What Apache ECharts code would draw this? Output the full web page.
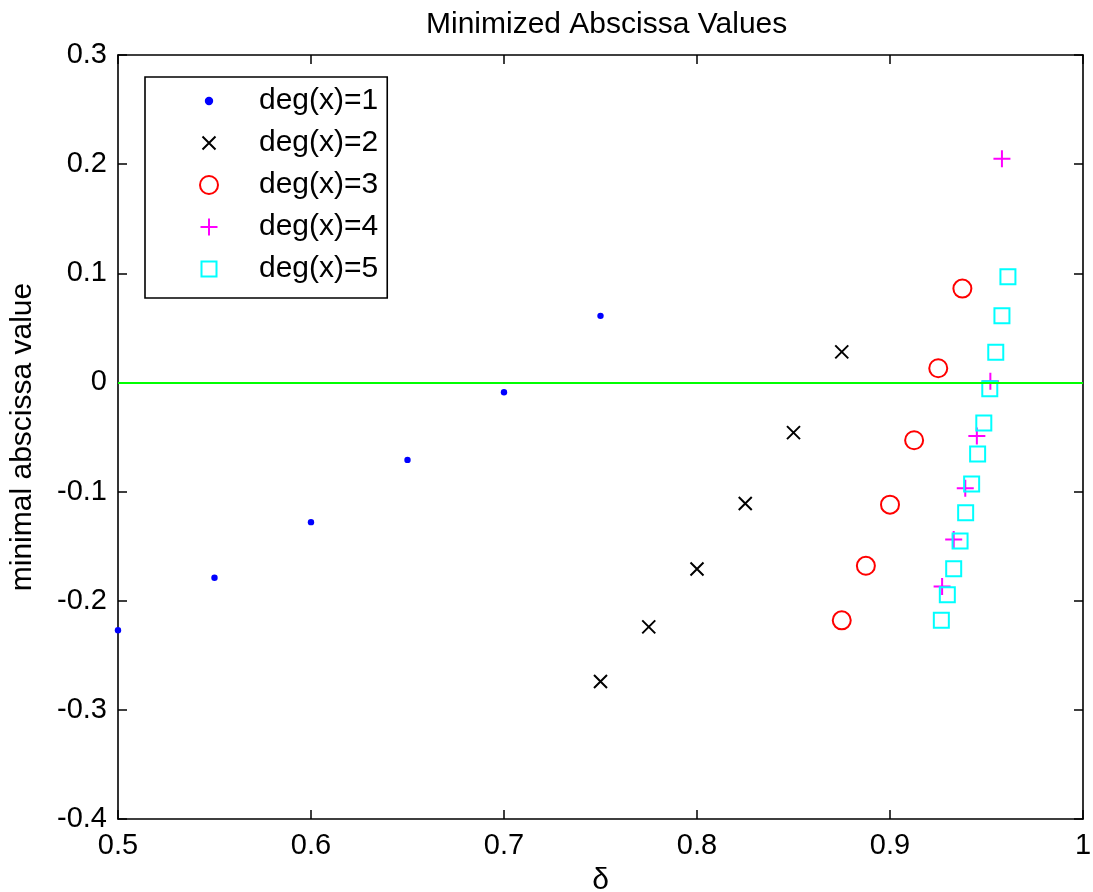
<!DOCTYPE html>
<html>
<head>
<meta charset="utf-8">
<script src="https://cdn.jsdelivr.net/npm/echarts@6/dist/echarts.min.js"></script>
<style>
html,body{margin:0;padding:0;background:#fff;}
#chart{width:1093px;height:892px;}
</style>
</head>
<body>
<div id="chart"></div>
<script>
// ---- data ----
const seriesNames = ['deg(x)=1', 'deg(x)=2', 'deg(x)=3', 'deg(x)=4', 'deg(x)=5'];
const x1 = [0.5, 0.55, 0.6, 0.65, 0.7, 0.75];
const y1 = [-0.227, -0.179, -0.128, -0.071, -0.009, 0.061];
const x2 = [0.75, 0.775, 0.8, 0.825, 0.85, 0.875];
const y2 = [-0.274, -0.224, -0.171, -0.111, -0.046, 0.028];
const x3 = [0.875, 0.8875, 0.9, 0.9125, 0.925, 0.9375];
const y3 = [-0.218, -0.168, -0.112, -0.053, 0.013, 0.086];
const x4 = [0.927, 0.933, 0.939, 0.945, 0.952, 0.958];
const y4 = [-0.187, -0.144, -0.097, -0.049, 0.001, 0.205];
const x5 = [0.9266, 0.9297, 0.933, 0.9363, 0.9392, 0.9423, 0.9454, 0.9486, 0.9517, 0.9548, 0.958, 0.9611];
const y5 = [-0.218, -0.1946, -0.1708, -0.1454, -0.1194, -0.0931, -0.0655, -0.0372, -0.0058, 0.0276, 0.061, 0.0969];
const xTicks = [0.5, 0.6, 0.7, 0.8, 0.9, 1];
const yTicks = [-0.4, -0.3, -0.2, -0.1, 0, 0.1, 0.2, 0.3];
const refLineY = 0;

// ---- marker shapes (20x20 box, corners fix the box size) ----
const BOX = 'M0,0M20,20';
const symDot = 'path://' + BOX + 'M6.8,10A3.2,3.2,0,1,1,13.2,10A3.2,3.2,0,1,1,6.8,10Z';
const symX = 'path://' + BOX + 'M3.5,3.5L16.5,16.5M16.5,3.5L3.5,16.5';
const symCircle = 'path://' + BOX + 'M1,10A9,9,0,1,1,19,10A9,9,0,1,1,1,10Z';
const symPlus = 'path://' + BOX + 'M10,1.5L10,18.5M1.5,10L18.5,10';
const symSquare = 'path://' + BOX + 'M2.5,2.5L17.5,2.5L17.5,17.5L2.5,17.5Z';

const FONT = 'Liberation Sans, Arial, Helvetica, sans-serif';
const zip = (xs, ys) => xs.map((v, i) => [v, ys[i]]);

function mk(name, xs, ys, sym, fill, stroke) {
  return {
    name: name, type: 'scatter', xAxisIndex: 0, yAxisIndex: 0,
    data: zip(xs, ys), symbol: sym, symbolSize: 20, symbolKeepAspect: true,
    itemStyle: { color: fill, borderColor: stroke, borderWidth: 2, opacity: 1 },
    emphasis: { disabled: true }, silent: true
  };
}

const series = [
  mk(seriesNames[0], x1, y1, symDot, '#0000ff', '#0000ff'),
  mk(seriesNames[1], x2, y2, symX, 'transparent', '#000000'),
  mk(seriesNames[2], x3, y3, symCircle, 'transparent', '#ff0000'),
  mk(seriesNames[3], x4, y4, symPlus, 'transparent', '#ff00ff'),
  mk(seriesNames[4], x5, y5, symSquare, 'transparent', '#00ffff')
];
series[0].itemStyle.borderWidth = 0;
series[0].markLine = {
  silent: true, symbol: ['none', 'none'], label: { show: false },
  lineStyle: { color: '#00ff00', width: 2, type: 'solid' },
  data: [{ yAxis: refLineY }], animation: false
};

const axisCommon = {
  type: 'value',
  axisLine: { show: true, onZero: false, lineStyle: { color: '#000', width: 1.6 } },
  axisTick: { show: true, inside: true, length: 9, lineStyle: { color: '#000', width: 1.5 } },
  splitLine: { show: false }
};
const labelStyle = { color: '#000', fontSize: 29, fontFamily: FONT };

const option = {
  animation: false,
  backgroundColor: '#fff',
  title: {
    text: 'Minimized Abscissa Values', left: 421, top: 5,
    textStyle: { color: '#000', fontSize: 30, fontWeight: 'normal', fontFamily: FONT }
  },
  grid: { left: 118, right: 10, top: 55, bottom: 73, containLabel: false, outerBoundsMode: 'none' },
  legend: {
    orient: 'vertical', left: 145, top: 77,
    data: seriesNames,
    itemWidth: 90, itemHeight: 20, itemGap: 12,
    padding: [9, 9, 14, 53],
    borderColor: '#000', borderWidth: 1.6, backgroundColor: '#fff',
    textStyle: { color: '#000', fontSize: 30, fontFamily: FONT },
    itemStyle: { borderWidth: 2 },
    selectedMode: false
  },
  xAxis: [
    Object.assign({}, axisCommon, {
      position: 'bottom', min: xTicks[0], max: xTicks[xTicks.length - 1], interval: 0.1,
      axisLabel: Object.assign({}, labelStyle, { margin: 12 }),
      name: 'δ', nameLocation: 'middle', nameGap: 47,
      nameTextStyle: { color: '#000', fontSize: 30, fontFamily: FONT }
    }),
    Object.assign({}, axisCommon, {
      position: 'top', min: xTicks[0], max: xTicks[xTicks.length - 1], interval: 0.1,
      axisLabel: { show: false }
    })
  ],
  yAxis: [
    Object.assign({}, axisCommon, {
      position: 'left', min: yTicks[0], max: yTicks[yTicks.length - 1], interval: 0.1,
      axisLabel: Object.assign({}, labelStyle, { margin: 11 }),
      name: 'minimal abscissa value', nameLocation: 'middle', nameGap: 80, nameRotate: 90,
      nameTextStyle: { color: '#000', fontSize: 30, fontFamily: FONT }
    }),
    Object.assign({}, axisCommon, {
      position: 'right', min: yTicks[0], max: yTicks[yTicks.length - 1], interval: 0.1,
      axisLabel: { show: false }
    })
  ],
  series: series
};

const chart = echarts.init(document.getElementById('chart'), null, { renderer: 'canvas' });
chart.setOption(option);
</script>
</body>
</html>
